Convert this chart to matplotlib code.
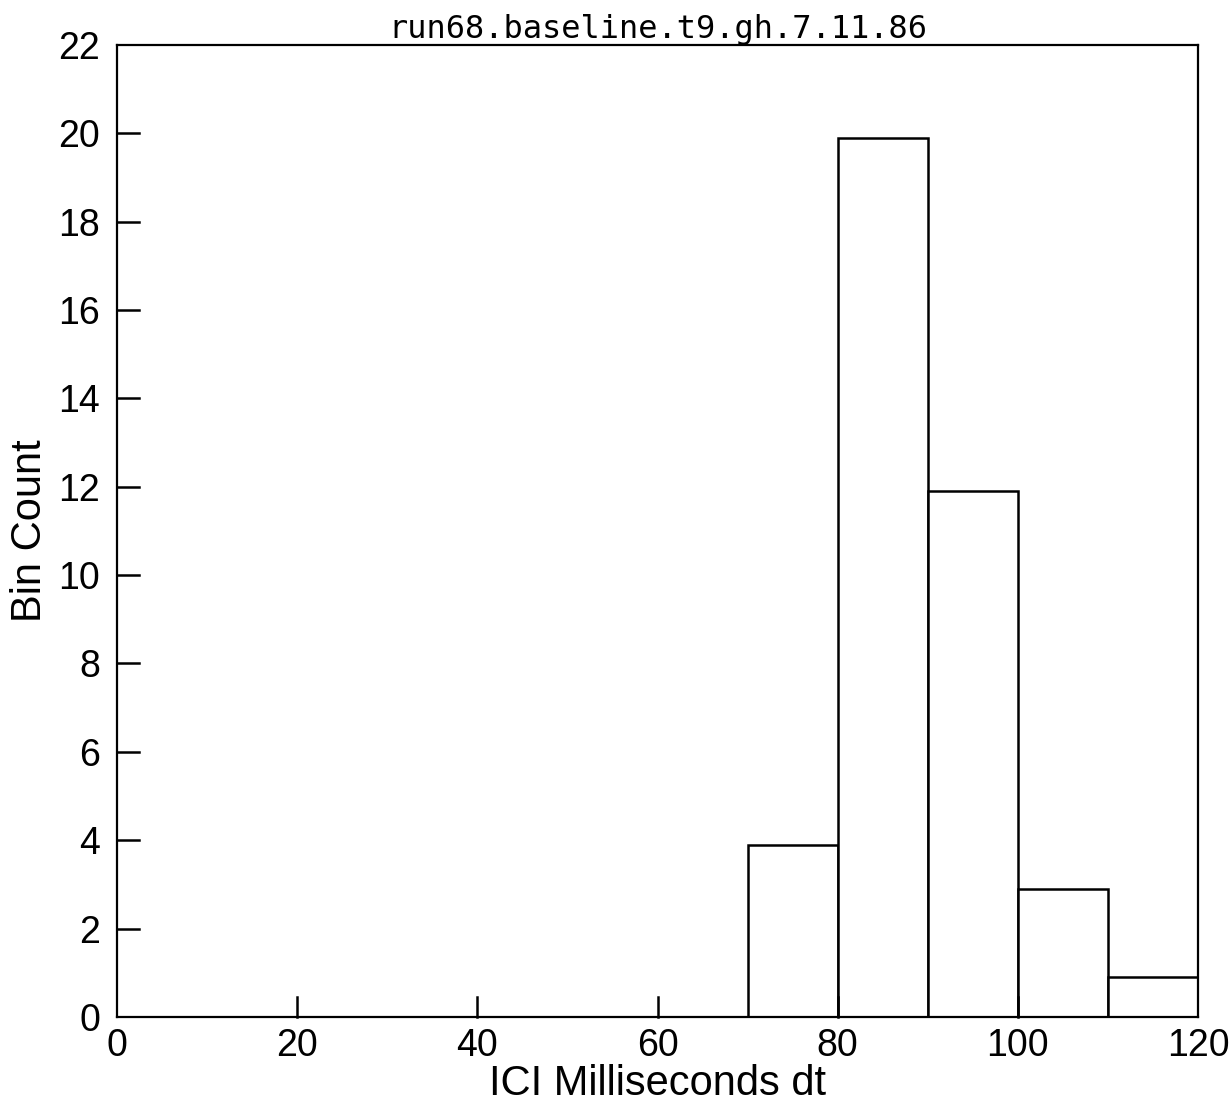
""" Histograma ICI run68 """

# * Importar librerias a utilizar
import matplotlib
matplotlib.use('Agg')
import matplotlib.pyplot as plt


# * Datos
bordes_bin = [70, 80, 90, 100, 110, 120]
conteos = [3.9, 19.9, 11.9, 2.9, 0.9]

x_ticks = [0, 20, 40, 60, 80, 100, 120]
y_ticks = [0, 2, 4, 6, 8, 10, 12, 14, 16, 18, 20, 22]

titulo = 'run68.baseline.t9.gh.7.11.86'


# * Crear figura
fig = plt.figure(figsize=(12.29, 11.13), dpi=100)
ax = fig.add_axes([0.0952, 0.0863, 0.8796, 0.8733])

anchos = [b - a for a, b in zip(bordes_bin[:-1], bordes_bin[1:])]
ax.bar(bordes_bin[:-1], conteos, width=anchos, align='edge',
       facecolor='white', edgecolor='black', linewidth=1.8, zorder=1)

ax.set_xlim(0, 120)
ax.set_ylim(0, 22)

for lado in ax.spines.values():
    lado.set_linewidth(1.6)


# * Ticks: etiquetas normales, marcas dibujadas a mano hacia adentro
ax.set_xticks(x_ticks)
ax.set_yticks(y_ticks)
ax.tick_params(axis='both', length=0, labelsize=27)
ax.tick_params(axis='x', pad=8)
ax.tick_params(axis='y', pad=12)

tr_x = ax.get_xaxis_transform()   # x en datos, y en fraccion de ejes
tr_y = ax.get_yaxis_transform()   # x en fraccion de ejes, y en datos
for xv in x_ticks[1:-1]:
    ax.plot([xv, xv], [0, 0.021], transform=tr_x, color='black',
            linewidth=1.8, clip_on=False, zorder=3)
for yv in y_ticks[1:-1]:
    ax.plot([0, 0.02], [yv, yv], transform=tr_y, color='black',
            linewidth=1.8, clip_on=False, zorder=3)

for lbl in ax.get_xticklabels() + ax.get_yticklabels():
    lbl.set_family('Liberation Sans')


# * Etiquetas
ax.set_xlabel('ICI Milliseconds dt', fontsize=30, family='Liberation Sans', labelpad=0)
ax.set_ylabel('Bin Count', fontsize=30, family='Liberation Sans', labelpad=6)
ax.set_title(titulo, fontsize=23, family='DejaVu Sans Mono', pad=2)

fig.savefig('out.png', dpi=100, facecolor='white')
